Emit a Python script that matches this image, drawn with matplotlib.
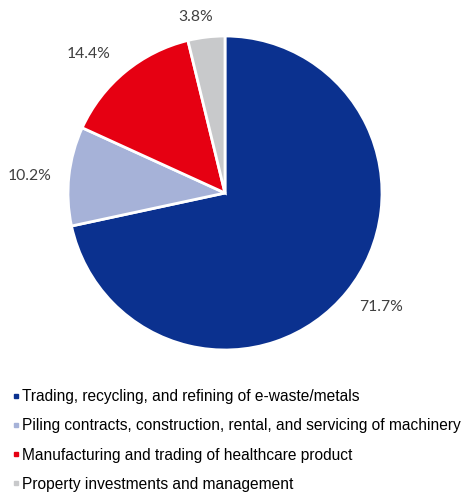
import numpy as np
import matplotlib.pyplot as plt
from matplotlib.lines import Line2D

segments = ['Trading, recycling, and refining of e-waste/metals',
            'Piling contracts, construction, rental, and servicing of machinery',
            'Manufacturing and trading of healthcare product',
            'Property investments and management']
shares = [71.7, 10.2, 14.4, 3.8]
colors = ['#0B318F', '#A6B2D8', '#E60012', '#C8C9CB']
# label placement: radius (in pie radii) and small angular nudge (deg)
label_dist = [1.233, 1.25, 1.239, 1.137]
label_nudge = [2.8, 1.2, 4.8, 2.7]

W, H = 464, 496
fig = plt.figure(figsize=(W / 100, H / 100), dpi=100)

# pie centre ~ (225, 193) px, radius ~157 px
cx, cy, r = 225, 193, 157
ax = fig.add_axes([(cx - r) / W, (H - cy - r) / H, 2 * r / W, 2 * r / H])
wedges, _ = ax.pie(shares, colors=colors, startangle=90, counterclock=False,
                   wedgeprops=dict(edgecolor='white', linewidth=2))
ax.set_xlim(-1, 1)
ax.set_ylim(-1, 1)
ax.set_aspect('equal')
ax.axis('off')

for w, v, d, n in zip(wedges, shares, label_dist, label_nudge):
    ang = np.deg2rad((w.theta1 + w.theta2) / 2 + n)
    ax.text(d * np.cos(ang), d * np.sin(ang), f'{v}%', ha='center', va='center',
            fontsize=11.3, color='#404040', family=['Lato', 'DejaVu Sans'])

handles = [Line2D([], [], marker='s', linestyle='none', markersize=3.4,
                  markerfacecolor=c, markeredgecolor=c) for c in colors]
fig.legend(handles, segments, loc='upper left', bbox_to_anchor=(13 / W, 1 - 389 / H),
           frameon=False, handlelength=0.4, handletextpad=0.15, labelspacing=0.92,
           borderaxespad=0, borderpad=0,
           prop=dict(family=['Liberation Sans', 'DejaVu Sans'], size=11.2))

fig.savefig('out.png', dpi=100)
